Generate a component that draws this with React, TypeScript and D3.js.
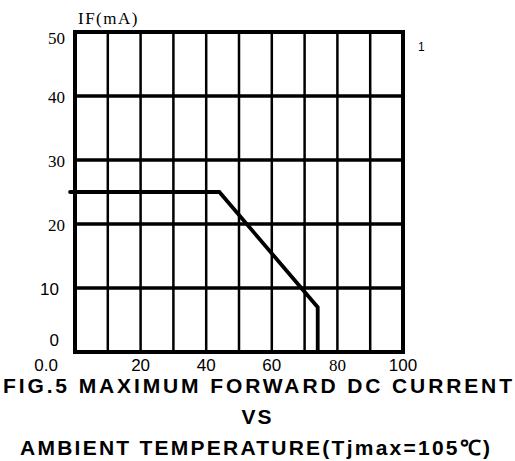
import React from 'react';
import * as d3 from 'd3';

// derating curve: ambient temperature (°C) vs max forward current (mA)
const tempC = [-1.5, 44, 74, 74];
const currentMA = [25, 25, 7, 0];

const xTicks = [0, 20, 40, 60, 80, 100];
const xTickLabels = ['0.0', '20', '40', '60', '80', '100'];
const yTicks = [0, 10, 20, 30, 40, 50];
const yTickLabels = ['0', '10', '20', '30', '40', '50'];
const xGrid = [10, 20, 30, 40, 50, 60, 70, 80, 90];
const yGrid = [10, 20, 30, 40];

const titleLines = [
  'FIG.5 MAXIMUM FORWARD DC CURRENT',
  'VS',
  'AMBIENT TEMPERATURE(Tjmax=105\u2103)',
];

const SANS = "'Liberation Sans', Arial, sans-serif";
const SERIF = "'Liberation Serif', 'Times New Roman', serif";

export default function App() {
  const W = 515;
  const H = 461;
  const x = d3.scaleLinear().domain([0, 100]).range([75, 403]);
  const y = d3.scaleLinear().domain([0, 50]).range([352, 32]);

  const line = d3
    .line<number>()
    .x((_, i) => x(tempC[i]))
    .y((d) => y(d));

  // the scanned chart mixes fonts on its labels
  const xFont = (i: number) => (xTickLabels[i] === '80' ? SERIF : SANS);
  const yFont = (v: number) => (v >= 20 ? SERIF : SANS);
  const yShift = (v: number) => (v === 50 ? 6 : v === 0 ? -12 : 1);

  return (
    <svg
      width={W}
      height={H}
      style={{ position: 'absolute', left: 0, top: 0, background: '#fff' }}
    >
      {/* grid */}
      {xGrid.map((v) => (
        <line key={'gx' + v} x1={x(v)} x2={x(v)} y1={y(50)} y2={y(0)} stroke="#000" strokeWidth={2.5} />
      ))}
      {yGrid.map((v) => (
        <line key={'gy' + v} x1={x(0)} x2={x(100)} y1={y(v)} y2={y(v)} stroke="#000" strokeWidth={3.5} />
      ))}
      <rect
        x={x(0)}
        y={y(50)}
        width={x(100) - x(0)}
        height={y(0) - y(50)}
        fill="none"
        stroke="#000"
        strokeWidth={4}
      />

      {/* curve */}
      <path
        d={line(currentMA) || ''}
        fill="none"
        stroke="#000"
        strokeWidth={3.8}
        strokeLinecap="round"
        strokeLinejoin="miter"
      />

      {/* y tick labels */}
      {yTicks.map((v, i) => (
        <text
          key={'yt' + v}
          x={v >= 20 ? 65 : 59}
          y={y(v) + yShift(v)}
          textAnchor="end"
          dominantBaseline="central"
          style={{ fontFamily: yFont(v) }}
          fontSize={17}
        >
          {yTickLabels[i]}
        </text>
      ))}

      {/* x tick labels */}
      {xTicks.map((v, i) => (
        <text
          key={'xt' + v}
          x={i === 0 ? x(v) - 17 : x(v)}
          y={365}
          textAnchor={i === 0 ? 'end' : 'middle'}
          dominantBaseline="central"
          style={{ fontFamily: xFont(i) }}
          fontSize={17}
        >
          {xTickLabels[i]}
        </text>
      ))}

      {/* axis title and page mark */}
      <text x={78} y={24} style={{ fontFamily: SERIF }} fontSize={17} letterSpacing={1.5}>
        IF(mA)
      </text>
      <text x={418} y={51} style={{ fontFamily: SANS }} fontSize={12}>
        1
      </text>

      {/* caption */}
      <g style={{ fontFamily: SANS }} fontWeight="bold" fontSize={21} textAnchor="middle">
        <text x={257.5} y={393} textLength={509} lengthAdjust="spacing">
          {titleLines[0]}
        </text>
        <text x={257.5} y={424} letterSpacing={2}>
          {titleLines[1]}
        </text>
        <text x={255} y={455} textLength={470} lengthAdjust="spacing">
          {titleLines[2]}
        </text>
      </g>
    </svg>
  );
}
